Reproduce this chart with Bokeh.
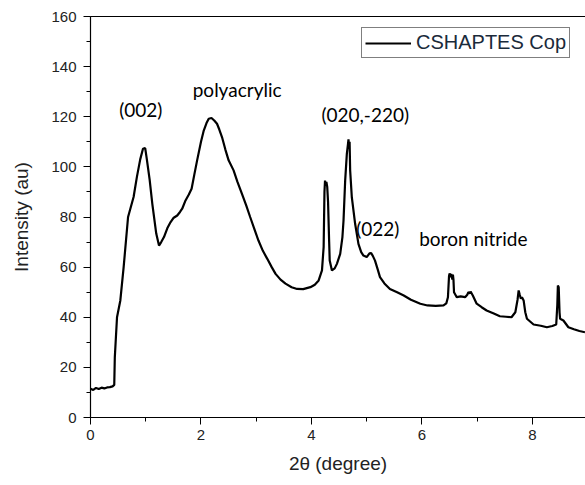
from bokeh.plotting import figure
from bokeh.models import Range1d, SingleIntervalTicker, FixedTicker, LinearAxis, Label, Legend, LegendItem
from bokeh.embed import file_html
from bokeh.resources import INLINE

# Data
two_theta = [0.00, 0.05, 0.10, 0.15, 0.20, 0.25, 0.30, 0.35, 0.40, 0.43, 0.44, 0.46, 0.48, 0.54, 0.60,
             0.68, 0.73, 0.78, 0.84, 0.90, 0.95, 0.99, 1.02, 1.07, 1.12, 1.19, 1.24, 1.28, 1.33, 1.39,
             1.45, 1.50, 1.57, 1.62, 1.66, 1.72, 1.78, 1.83, 1.88, 1.93, 2.00, 2.05, 2.10, 2.14, 2.19,
             2.24, 2.29, 2.33, 2.38, 2.44, 2.50, 2.59, 2.66, 2.74, 2.82, 2.89, 2.97, 3.04, 3.12, 3.20,
             3.28, 3.35, 3.44, 3.53, 3.64, 3.74, 3.85, 3.98, 4.06, 4.13, 4.19, 4.22, 4.235, 4.245, 4.26,
             4.27, 4.285, 4.30, 4.32, 4.33, 4.37, 4.42, 4.46, 4.52, 4.56, 4.58, 4.61, 4.64, 4.66, 4.67,
             4.68, 4.69, 4.70, 4.73, 4.79, 4.85, 4.90, 4.94, 5.00, 5.05, 5.08, 5.11, 5.15, 5.20, 5.24,
             5.32, 5.42, 5.55, 5.67, 5.80, 5.97, 6.10, 6.25, 6.39, 6.44, 6.47, 6.49, 6.50, 6.52, 6.53,
             6.55, 6.56, 6.57, 6.58, 6.63, 6.70, 6.78, 6.82, 6.84, 6.87, 6.88, 6.92, 6.99, 7.08, 7.17,
             7.30, 7.41, 7.52, 7.62, 7.69, 7.73, 7.75, 7.77, 7.79, 7.81, 7.84, 7.87, 7.90, 8.02, 8.15,
             8.26, 8.36, 8.43, 8.45, 8.46, 8.475, 8.49, 8.50, 8.56, 8.60, 8.65, 8.75, 8.85, 8.95]
intensity = [11.5, 11.0, 11.8, 11.4, 11.9, 11.6, 12.0, 12.1, 12.4, 13.0, 24.0, 32.0, 40.0, 46.7, 60.0,
             80.0, 84.0, 88.0, 96.0, 103.0, 107.2, 107.5, 103.0, 95.0, 85.0, 73.4, 68.6, 70.0, 72.0, 75.5,
             78.0, 79.6, 80.6, 82.0, 83.3, 86.6, 89.0, 91.3, 97.0, 102.6, 110.0, 114.5, 117.5, 119.2, 119.5,
             118.5, 117.2, 115.0, 111.9, 107.0, 102.6, 98.6, 94.0, 89.3, 84.5, 80.0, 75.0, 70.6, 66.5, 63.3,
             60.0, 57.3, 55.0, 53.4, 52.0, 51.3, 51.2, 52.0, 53.0, 54.7, 58.7, 68.0, 90.0, 94.5, 93.0,
             94.0, 92.0, 86.0, 70.0, 62.6, 58.7, 59.5, 61.3, 65.3, 72.0, 78.6, 94.6, 105.2, 109.0, 111.0,
             108.0, 110.0, 98.6, 87.9, 77.3, 69.3, 66.0, 64.6, 64.0, 65.5, 65.6, 64.5, 62.6, 59.0, 56.0,
             53.5, 51.3, 50.0, 48.7, 47.0, 45.4, 44.7, 44.5, 44.7, 45.5, 48.0, 56.5, 57.5, 56.0, 57.3,
             55.0, 57.0, 55.0, 50.0, 48.0, 48.3, 48.0, 49.0, 50.0, 49.5, 50.3, 48.7, 45.4, 44.0, 42.7,
             41.5, 40.4, 40.2, 40.0, 42.0, 47.0, 50.7, 49.0, 47.4, 48.0, 46.7, 42.0, 39.4, 37.1, 36.6,
             36.0, 36.5, 37.1, 45.0, 52.7, 52.0, 42.0, 39.4, 38.7, 37.5, 36.0, 35.2, 34.5, 34.0]
series_name = "CSHAPTES Cop"
x_title = "2\u03b8 (degree)"
y_title = "Intensity (au)"

p = figure(width=585, height=485, output_backend="svg", toolbar_location=None,
           x_range=Range1d(0, 8.96), y_range=Range1d(0, 160),
           min_border_left=90, min_border_right=0, min_border_top=16, min_border_bottom=68)
p.background_fill_color = "white"
p.border_fill_color = "white"
p.outline_line_color = None
p.xgrid.visible = False
p.ygrid.visible = False

r = p.line(two_theta, intensity, line_color="black", line_width=2.2)

for ax, ticker in ((p.xaxis[0], SingleIntervalTicker(interval=2, num_minor_ticks=2)),
                   (p.yaxis[0], SingleIntervalTicker(interval=20, num_minor_ticks=2))):
    ax.ticker = ticker
    ax.axis_line_color = "black"
    ax.axis_line_width = 1.2
    ax.major_tick_line_color = "black"
    ax.minor_tick_line_color = "black"
    ax.major_tick_in = 0
    ax.major_tick_out = 7
    ax.minor_tick_in = 0
    ax.minor_tick_out = 4
    ax.major_label_text_font = "Liberation Sans"
    ax.major_label_text_font_size = "15px"
    ax.major_label_text_color = "#222222"
    ax.axis_label_text_font = "Liberation Sans"
    ax.axis_label_text_font_size = "19px"
    ax.axis_label_text_font_style = "normal"
    ax.axis_label_text_color = "#222222"

p.xaxis[0].axis_label = x_title
p.xaxis[0].major_label_standoff = 5
p.xaxis[0].axis_label_standoff = 10
p.yaxis[0].axis_label = y_title
p.yaxis[0].major_label_standoff = 7
p.yaxis[0].axis_label_standoff = 16

top_axis = LinearAxis(ticker=FixedTicker(ticks=[]), axis_line_color="black", axis_line_width=1.2,
                      major_tick_line_color=None, minor_tick_line_color=None)
p.add_layout(top_axis, "above")

legend = Legend(items=[LegendItem(label=series_name, renderers=[r])],
                location=(271, 359), border_line_color="black", border_line_width=1,
                background_fill_alpha=1, padding=3, spacing=0, margin=0,
                label_text_font="Liberation Sans", label_text_font_size="20px",
                label_text_color="#1a2a3a", glyph_width=46, glyph_height=22,
                label_standoff=5, label_height=22)
p.add_layout(legend, "center")

ann_font = "Lato"
for txt, x, y in (("(002)", 0.52, 123.0), ("polyacrylic", 1.85, 130.7), ("(020,-220)", 4.18, 120.7),
                  ("(022)", 4.81, 75.4), ("boron nitride", 5.95, 71.6)):
    p.add_layout(Label(x=x, y=y, text=txt, text_font=ann_font, text_font_size="19px",
                       text_baseline="middle", text_align="left", text_color="black"))

open("out.html", "w").write(file_html(p, INLINE))
